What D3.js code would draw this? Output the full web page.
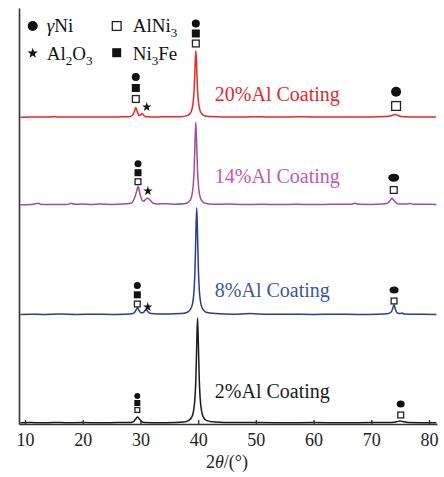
<!DOCTYPE html>
<html><head><meta charset="utf-8">
<script src="https://cdn.jsdelivr.net/npm/d3@7"></script>
<style>html,body{margin:0;padding:0;background:#fff}svg{display:block}svg text{font-family:"Liberation Serif","DejaVu Serif",serif}</style>
</head><body>
<script>
// ---------- DATA ----------
const seriesNames = ["2%Al Coating", "8%Al Coating", "14%Al Coating", "20%Al Coating"];
const xTicks = [10, 20, 30, 40, 50, 60, 70, 80];
const xTitle = ["2", "θ", "/(°)"];
// vertical stacking offsets of each pattern (a.u.)
const offsets = [0.9, 109.2, 218.7, 306.5];
// [2θ, intensity a.u.]
const s2 = [[9.2,0.3],[11,0.5],[13,0.3],[15,0.6],[17,0.4],[20,0.5],[23,0.3],[26,0.5],[28.3,0.6],[28.8,1.5],[29.1,3.5],[29.5,6],[29.9,3.5],[30.2,1.5],[30.7,0.6],[33,0.4],[36,0.6],[37.5,1],[38.3,2.5],[38.9,6],[39.2,12],[39.45,25],[39.6,43],[39.75,77],[39.9,105],[40.05,77],[40.2,43],[40.35,25],[40.6,12],[40.9,6],[41.5,2.5],[43,1],[46,0.5],[50,0.6],[55,0.4],[60,0.5],[65,0.4],[70,0.5],[73.5,0.7],[74.4,1.3],[75,2.2],[75.6,1.3],[76.5,0.6],[79,0.4],[81.3,0.3]];
const s8 = [[9.2,0.4],[11,0.6],[13,0.3],[16,0.7],[19,0.4],[22,0.6],[25,0.4],[27,0.6],[28.5,1],[29,2.5],[29.25,5],[29.5,7],[29.75,4.5],[30.1,2],[30.5,2.2],[30.75,4],[31.0,5],[31.3,3],[31.8,1.2],[33,0.8],[35,0.8],[37,1.2],[38.15,2.6],[38.75,6.3],[39.05,12],[39.3,25],[39.45,44],[39.6,79],[39.75,107],[39.9,79],[40.05,44],[40.2,25],[40.45,12],[40.75,6.3],[41.35,2.6],[43,1.2],[46,0.6],[49,1.2],[52,0.5],[56,0.6],[60,0.4],[64,0.6],[68,0.4],[71,0.6],[72.8,1],[73.5,3],[73.75,7],[73.95,10],[74.15,6],[74.5,2],[75,1.2],[75.3,1.8],[75.7,0.8],[78,0.5],[81.3,0.4]];
const s14 = [[9.2,0.5],[11,0.8],[12.3,2],[12.8,0.8],[15,0.9],[17.3,0.8],[18,2],[18.6,1],[20,1.3],[21.5,0.8],[23,1.2],[25,0.9],[27,1.2],[28.3,2],[28.9,6],[29.3,13],[29.6,19],[29.9,12],[30.3,5],[30.6,4],[30.9,6],[31.3,7],[31.7,5],[32.2,2],[33,1.3],[34.5,1.6],[36,1],[37.5,1.5],[38,2],[38.6,4.9],[38.9,9.4],[39.15,20],[39.3,34],[39.45,61],[39.6,83],[39.75,61],[39.9,34],[40.05,20],[40.3,9.4],[40.6,4.9],[41.2,2],[42.5,1],[45,1.2],[48,0.8],[51,1],[54,0.8],[57,1],[60,0.8],[63,1],[66.5,1.1],[67.2,2],[67.8,1],[70,0.9],[72,1.2],[72.9,2.5],[73.3,5],[73.6,7],[73.9,5],[74.3,2.5],[74.9,1.2],[76,1.2],[76.7,1.8],[77.3,1],[79,1],[81.3,0.9]];
const s20 = [[9.2,0.3],[11,0.6],[13,0.4],[15,0.7],[17,0.4],[20,0.6],[23,0.4],[26,0.6],[28,0.8],[28.6,2],[28.95,6],[29.2,10],[29.45,6],[29.75,2],[30.0,2.5],[30.3,4],[30.6,2],[31,0.8],[33,0.6],[35,0.8],[37,0.8],[38,1.6],[38.6,4],[38.9,7.6],[39.15,16],[39.3,27],[39.45,49],[39.6,67],[39.75,49],[39.9,27],[40.05,16],[40.3,7.6],[40.6,4],[41.2,1.6],[43,0.8],[46,0.5],[50,0.7],[54,0.5],[58,0.7],[62,0.5],[66,0.6],[70,0.5],[72.5,0.9],[73.5,1.8],[74.1,3],[74.7,1.8],[75.6,0.8],[78,0.5],[81.2,0.5]];
const seriesData = [s2, s8, s14, s20];
// phase markers: 2θ, level (a.u.), symbols bottom->top
const markerX = [39.6, 29.2, 74.3, 29.58, 73.9, 29.46, 73.95, 29.46, 75.1];
const markerLevel = [380.5, 325, 318, 242.3, 234, 120, 123, 14, 9];
const markerSymbols = [["open","filled","circle"],["open","filled","circle"],["open","circle"],["open","filled","circle"],["open","circle"],["open","filled","circle"],["open","circle"],["open","filled","circle"],["open","circle"]];
const starX = [31.1, 31.3, 31.27];
const starLevel = [317, 233, 117];
const legendItems = [["circle", [["γ",true,false],["Ni",false,false]]], ["open", [["AlNi",false,false],["3",false,true]]], ["star", [["Al",false,false],["2",false,true],["O",false,false],["3",false,true]]], ["filled", [["Ni",false,false],["3",false,true],["Fe",false,false]]]];

// ---------- STYLE / LAYOUT ----------
const lineColors = ["#1a1a1a", "#2d3a94", "#9c4f9e", "#e8262b"];
const labelColors = ["#1a1a1a", "#3c55a5", "#c45aab", "#e8262b"];
const labelGap = [25, 17.8, 22.3, 16.5];
const labelX = 42.9;
const mStep = [10, 11, 14.3, 9, 12.3, 9.2, 11, 7, 11];
const mSize = [8, 8, 10, 7, 8, 7, 7, 6, 7];
const mCircW = [8, 8, 10, 7, 11, 7, 9, 6, 8];
const starR = [5, 5, 5];

const W = 444, H = 477;
const svg = d3.select("body").append("svg").attr("width", W).attr("height", H);
svg.append("rect").attr("width", W).attr("height", H).attr("fill", "#fff");

const x = d3.scaleLinear().domain([8.96, 81.39]).range([19, 437]);
const y = d3.scaleLinear().domain([0, 416]).range([424, 8]);

// series
const line = d3.line().x(d => x(d[0])).y(d => y(d[1])).curve(d3.curveMonotoneX);
seriesData.forEach((s, i) => {
  const pts = s.map(d => [d[0], d[1] + offsets[i]]);
  svg.append("path").attr("d", line(pts)).attr("fill", "none")
    .attr("stroke", lineColors[i]).attr("stroke-width", 1.5).attr("stroke-linejoin", "round");
});

// labels
seriesNames.forEach((n, i) => {
  svg.append("text").attr("x", x(labelX)).attr("y", y(offsets[i]) - labelGap[i])
    .attr("font-size", 20).attr("fill", labelColors[i]).text(n);
});

// symbol drawing
function drawSym(g, type, cx, cy, s, cw) {
  if (type === "open") {
    g.append("rect").attr("x", cx - s/2 + 0.6).attr("y", cy - s/2 + 0.6).attr("width", s - 1.2).attr("height", s - 1.2)
      .attr("fill", "#fff").attr("stroke", "#222").attr("stroke-width", 1.3);
  } else if (type === "filled") {
    g.append("rect").attr("x", cx - s/2).attr("y", cy - s/2).attr("width", s).attr("height", s).attr("fill", "#111");
  } else if (type === "circle") {
    g.append("ellipse").attr("cx", cx).attr("cy", cy).attr("rx", (cw || s)/2).attr("ry", s/2).attr("fill", "#111");
  } else if (type === "star") {
    const r = s;
    g.append("path").attr("d", d3.symbol().type(d3.symbolStar).size(r*r/0.8908130915292852)())
      .attr("transform", `translate(${cx},${cy})`).attr("fill", "#111");
  }
}
const mg = svg.append("g");
markerX.forEach((mx, k) => {
  markerSymbols[k].forEach((t, j) => {
    drawSym(mg, t, x(mx), y(markerLevel[k]) - j*mStep[k], mSize[k], mCircW[k]);
  });
});
starX.forEach((sx, k) => drawSym(mg, "star", x(sx), y(starLevel[k]), starR[k]));

// axes
const xAxis = d3.axisBottom(x).tickValues(xTicks).tickSizeInner(-4).tickSizeOuter(0).tickPadding(9).tickFormat(d => d);
const gx = svg.append("g").attr("transform", "translate(0,424)").call(xAxis);
gx.attr("font-family", null).attr("font-size", 18);
gx.selectAll("text").attr("fill", "#222");
gx.selectAll("line,path").attr("stroke", "#333").attr("stroke-width", 1.4);
const yAxis = d3.axisLeft(y).tickValues([]).tickSizeOuter(0);
const gy = svg.append("g").attr("transform", "translate(19,0)").call(yAxis);
gy.selectAll("path").attr("stroke", "#333").attr("stroke-width", 1.6);

// x title
const tt = svg.append("text").attr("x", 227).attr("y", 468).attr("text-anchor", "middle")
  .attr("font-size", 18).attr("fill", "#222");
tt.append("tspan").text(xTitle[0]);
tt.append("tspan").attr("font-style", "italic").text(xTitle[1]);
tt.append("tspan").text(xTitle[2]);

// legend
const legPos = [[32.7, 26, 46.7, 32], [116.7, 26, 132.7, 32], [32.7, 53.3, 46.7, 59.5], [116.7, 52.7, 132.7, 59.5]];
const legSize = {circle: 10, open: 10, star: 5.5, filled: 9};
legendItems.forEach((it, i) => {
  const p = legPos[i];
  drawSym(svg, it[0], p[0], p[1], legSize[it[0]]);
  const t = svg.append("text").attr("x", p[2]).attr("y", p[3]).attr("font-size", 19).attr("fill", "#111");
  let sub = false;
  it[1].forEach(part => {
    const ts = t.append("tspan").text(part[0]);
    if (part[1]) ts.attr("font-style", "italic");
    if (part[2] && !sub) { ts.attr("font-size", 13).attr("dy", 5); sub = true; }
    else if (!part[2] && sub) { ts.attr("dy", -5); sub = false; }
    else if (part[2] && sub) { ts.attr("font-size", 13); }
  });
});
</script>
</body></html>
